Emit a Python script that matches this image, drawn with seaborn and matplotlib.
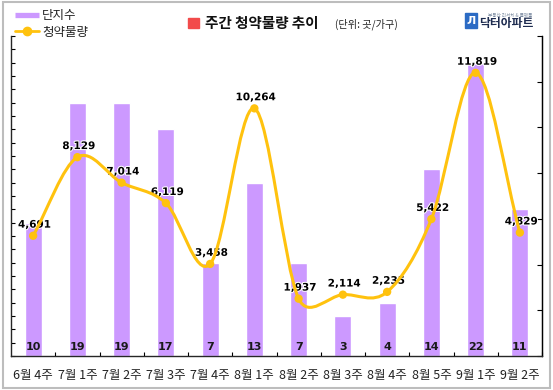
import numpy as np
import pandas as pd
import matplotlib
matplotlib.use("Agg")
import matplotlib.pyplot as plt
import seaborn as sns
from matplotlib.path import Path
from matplotlib.patches import PathPatch, Rectangle
from matplotlib.lines import Line2D
import matplotlib.patheffects as pe

# -----------------------------------------------------------------------------
# Datos
# -----------------------------------------------------------------------------
weeks = ["6월 4주", "7월 1주", "7월 2주", "7월 3주", "7월 4주", "8월 1주",
         "8월 2주", "8월 3주", "8월 4주", "8월 5주", "9월 1주", "9월 2주"]
complexes = [10, 19, 19, 17, 7, 13, 7, 3, 4, 14, 22, 11]
supply = [4691, 8129, 7014, 6119, 3458, 10264, 1937, 2114, 2235, 5422, 11819, 4829]

BAR_COLOR = "#CC99FF"
LINE_COLOR = "#FFC20E"

sns.set_style("white")
plt.rcParams["font.family"] = ["Noto Sans CJK KR", "DejaVu Sans"]
plt.rcParams["xtick.direction"] = "in"
plt.rcParams["ytick.direction"] = "in"


def smooth_path(ax, xs, ys):
    """Curva suavizada estilo Excel (Bezier) calculada en coordenadas de pantalla."""
    pts = ax.transData.transform(np.column_stack([xs, ys]))
    n = len(pts)
    verts = [pts[0]]
    codes = [Path.MOVETO]
    for i in range(n - 1):
        p0 = pts[max(i - 1, 0)]
        p1, p2 = pts[i], pts[i + 1]
        p3 = pts[min(i + 2, n - 1)]
        d01 = np.hypot(*(p1 - p0))
        d12 = np.hypot(*(p2 - p1))
        d23 = np.hypot(*(p3 - p2))
        if d01 == 0:
            f1 = 1 / 3
        else:
            f1 = 1 / 6 if d01 / 6 < d12 / 2 else d12 / 2 / d01
        if d23 == 0:
            f2 = 1 / 3
        else:
            f2 = 1 / 6 if d23 / 6 < d12 / 2 else d12 / 2 / d23
        c1 = p1 + (p2 - p0) * f1
        c2 = p2 + (p1 - p3) * f2
        verts += [c1, c2, p2]
        codes += [Path.CURVE4] * 3
    verts = ax.transData.inverted().transform(np.array(verts))
    return Path(verts, codes)


df = pd.DataFrame({"week": weeks, "complexes": complexes, "supply": supply})

fig, ax = plt.subplots(figsize=(5.53, 3.90), dpi=100)
fig.subplots_adjust(left=11 / 553, right=542 / 553, bottom=34 / 390, top=354 / 390)

# Barras (eje izquierdo)
sns.barplot(data=df, x="week", y="complexes", color=BAR_COLOR, saturation=1,
            width=0.38, ax=ax, zorder=1)
ax.set_xlim(-0.5, len(weeks) - 0.5)
ax.set_ylim(0, 24)
ax.set_yticks(range(0, 25))
ax.set_yticklabels([])
ax.set_xlabel("")
ax.set_ylabel("")
ax.set_xticks(np.arange(len(weeks)) + 0.5, minor=True)
ax.tick_params(axis="x", which="major", length=0, pad=9, labelsize=9,
               labelcolor="#222222")
ax.tick_params(axis="x", which="minor", direction="in", length=3, width=0.8,
               color="black", bottom=True)
ax.tick_params(axis="y", direction="in", length=3, width=0.8, color="black",
               left=True, right=False)
for c, s in zip(range(len(complexes)), complexes):
    ax.text(c, 0.7, str(s), ha="center", va="center", fontsize=8,
            fontweight="bold", color="#1a1a1a", family="DejaVu Sans")

for side in ["left", "bottom", "right"]:
    ax.spines[side].set_color("black")
    ax.spines[side].set_linewidth(0.9)
ax.spines["top"].set_visible(False)

# Línea (eje derecho)
ax2 = ax.twinx()
y0 = -570
ax2.set_ylim(y0, y0 + 14000)
ax2.set_yticks([y0 + 2000 * k for k in range(8)])
ax2.set_yticklabels([])
ax2.tick_params(axis="y", which="both", direction="in", length=3.5, width=0.8,
                color="black", right=True, left=False)
ax2.spines["top"].set_visible(False)
ax2.spines["right"].set_color("black")
ax2.spines["right"].set_linewidth(0.9)

xs = np.arange(len(supply))
ax2.add_patch(PathPatch(smooth_path(ax2, xs, supply), fill=False,
                        edgecolor=LINE_COLOR, lw=2.2, capstyle="round",
                        zorder=3))
sns.scatterplot(x=xs, y=supply, ax=ax2, color=LINE_COLOR, s=36,
                edgecolor="none", zorder=4, legend=False)
for x, v in zip(xs, supply):
    ax2.annotate(f"{v:,}", (x, v), xytext=(1, 8), textcoords="offset points",
                 ha="center", va="center", fontsize=7.5, fontweight="bold",
                 color="black", family="DejaVu Sans", zorder=2,
                 path_effects=[pe.withStroke(linewidth=1.5, foreground="white")])

# Leyenda
handles = [Line2D([], [], color=BAR_COLOR, lw=3.8, solid_capstyle="butt"),
           Line2D([], [], color=LINE_COLOR, lw=2, marker="o", markersize=6)]
fig.legend(handles, ["단지수", "청약물량"], loc="upper left",
           bbox_to_anchor=(15 / 553, 1 - 9 / 390), frameon=False, fontsize=9,
           handlelength=1.9, handletextpad=0.25, labelspacing=0.3,
           borderpad=0, borderaxespad=0, labelcolor="#222222")

# Título
fig.patches.append(Rectangle((188 / 553, 1 - 28 / 390), 11 / 553, 10 / 390,
                             transform=fig.transFigure, color="#F24B4B"))
fig.text(205 / 553, 1 - 23 / 390, "주간 청약물량 추이", fontsize=10.5,
         fontweight="bold", color="#111111", ha="left", va="center")
fig.text(335 / 553, 1 - 24 / 390, "(단위: 곳/가구)", fontsize=7.3,
         color="#222222", ha="left", va="center")

# Logo
fig.patches.append(Rectangle((465 / 553, 1 - 28 / 390), 12 / 553, 15 / 390,
                             transform=fig.transFigure, color="#2C6BC4"))
fig.text(471 / 553, 1 - 21 / 390, "Л", fontsize=8, fontweight="bold",
         color="white", ha="center", va="center", family="DejaVu Sans")
fig.text(488 / 553, 1 - 15 / 390, "부동산 리서치 & 플랫폼", fontsize=3.3,
         color="#7a8aa0", ha="left", va="center")
fig.text(479 / 553, 1 - 23.5 / 390, "닥터아파트", fontsize=8.5,
         fontweight="bold", color="#1d2b4f", ha="left", va="center")

# Marco exterior
fig.patches.append(Rectangle((3 / 553, 2 / 390), 547 / 553, 386 / 390,
                             transform=fig.transFigure, fill=False,
                             edgecolor="#BDBDBD", lw=1.5))

fig.savefig("out.png", dpi=100)
